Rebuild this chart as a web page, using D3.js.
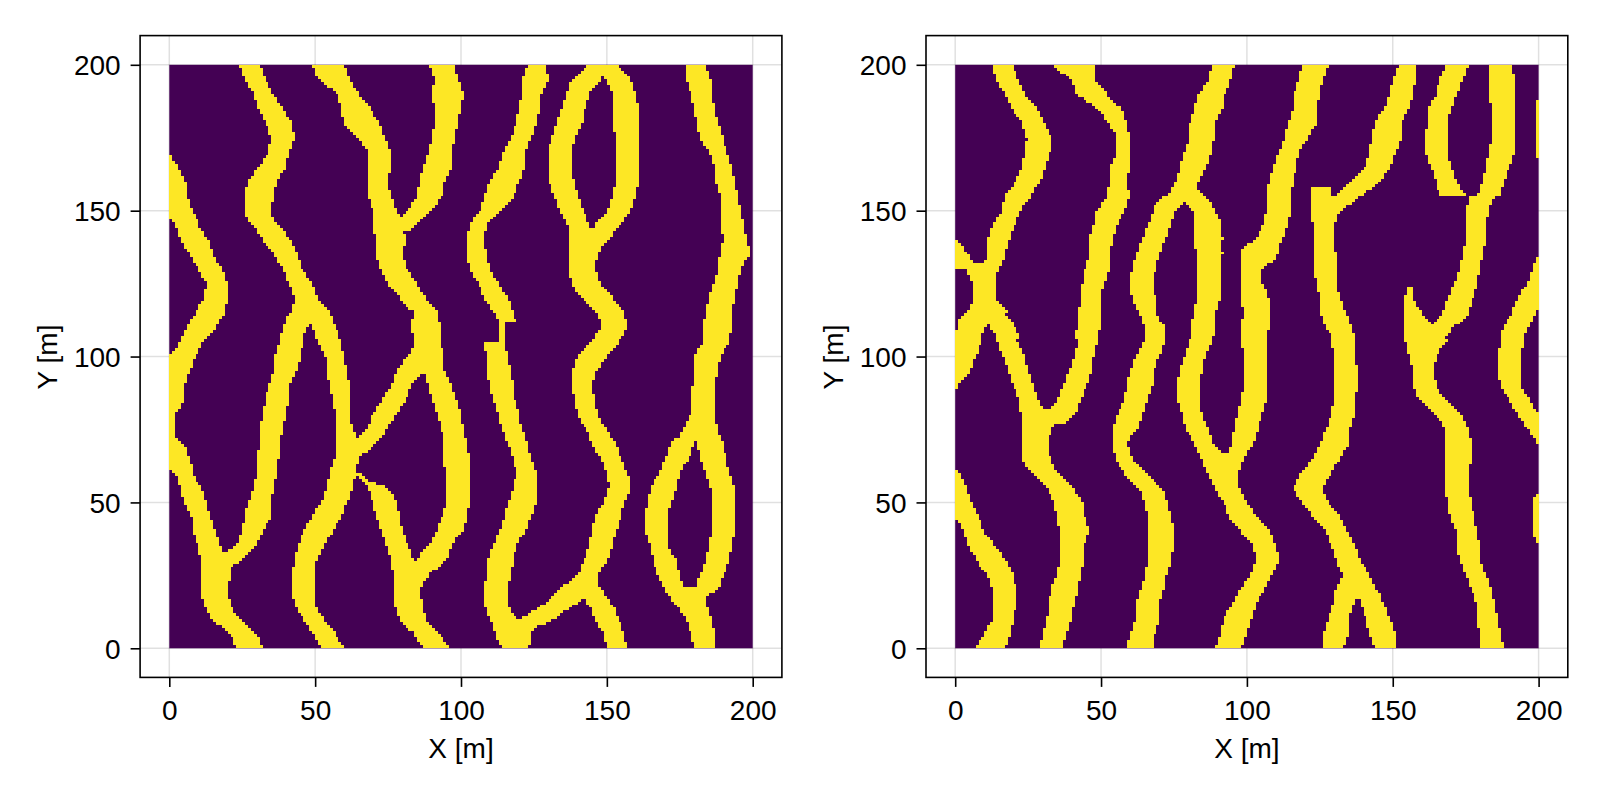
<!DOCTYPE html>
<html><head><meta charset="utf-8">
<style>html,body{margin:0;padding:0;background:#fff}svg{display:block}text{font-family:"Liberation Sans",Arial,sans-serif;fill:#000}</style>
<script src="https://cdnjs.cloudflare.com/ajax/libs/d3/7.8.5/d3.min.js"></script>
</head><body><svg id="c" width="1600" height="800"></svg>
<script>
const xTicks=[0,50,100,150,200], yTicks=[0,50,100,150,200];
const xTitle="X [m]", yTitle="Y [m]";
const cellColors=["#440154","#fde725"];
// channel belts read row by row: [y, left x, right x] in metres
const a1=[[168.7,0,0.5],[165,0,3],[160,0,5.5],[155,0,6],[150,0,8],[148,0,9],[147,1,9.5],[145,2,10],[140,4,13.5],[135,7,15],[130,10,18],[125,13,20],[120,12,20],[115,9,19],[110,6,16],[105.6,4,12],[100,0,9],[95,0,7],[90,0,5],[85,0,5],[82,0,3.7],[81,0,2],[73,0,2]];
const a2=[[73,0,2],[72,0,3],[70,0,5],[65,0,7],[61,0,8],[60,2,8],[55,4,11],[50,5,13],[45,7.5,14],[40,8,16],[35,10,17.5],[32,10.5,19],[30,11,21],[25,11,21],[20,11,20],[15,12,21],[10,14.5,24],[5,21,30],[0,23,32]];
const a3=[[200,24,31],[195,26,33],[190,29,35.5],[185,30.5,39],[180,33,42],[175,35,43],[170,34,41],[165,30.5,40],[160,27,37],[155,26,36],[150,26,35],[147,27,36],[145,29,38],[140,32,41.5],[135,36,44],[130,39,45.5],[125,41,49],[120,43,51],[115,42,53]];
const a4=[[115,41,52],[110,39,47],[105.6,38,46],[100,36,45],[95,36,43.5],[90,34,41],[85,33,41],[80,32,40],[75,31,39],[70,31,38],[65,30,37.5],[60,30,37],[55,29,36],[50,27,35],[45,26,35],[40,25,32],[35,23,29.5],[32,18,27],[30,15,25],[28,12,21]];
const a5=[[118,45,53],[115,47,55],[110,49,57],[105.6,50.5,58.5],[100,53.5,60],[95,54,61],[90,55,62],[85,56,62],[80,57,62],[75,57,63],[70,57,66],[65,56.5,65],[60,55,64],[55,54,63],[50,52,61],[45,49,59],[40,46,56],[35,44,53],[30,43,50.5],[25,42,50],[20,42,50],[15,43,50],[10,46,53],[5,49.5,57],[0,52,60]];
const a6=[[200,49,60],[195,51,62],[190,57.5,65],[185,59,69],[180,60,72],[175,65,74],[170,68,76],[165,68,76],[160,68,75],[155,68,76],[150,70,78],[145,70,80],[140,71,81],[135,71,80],[130,72.5,81.5],[125,75,85],[120,79,88],[115,84,92],[110,83,93],[105.6,84,93],[100,83,94]];
const a7=[[102,84,90],[100,81,90],[97,80,89],[95,78,87],[90,76,83],[85,73,81],[80,69.5,77.5],[75,68,74.5],[72,64,73],[70,61,70.5],[67,60,67],[65,58,64]];
const a8=[[102,86,94],[100,88,94.5],[95,87,94.5],[90,89,97],[85,90,98.5],[80,92,100],[75,93.4,101],[70,94,102],[65,94,103],[60,95,103],[50,95,103],[45,93.4,102],[40,91.5,100.5],[37,90,98],[35,89,97],[32,86,96],[30,85,94.5],[27,80,91],[25,79,89],[22,78,87]];
const a9=[[60,64,66],[57,66,69],[55.2,68,75],[52,69,77],[50,70,78],[45,71,79],[40,73,80],[35,74.5,82],[30,76,84],[25,77,88],[22,77,87],[20,77,86],[15,77,87],[10,79,88],[5,84,93],[0,87,96]];
const a10=[[200,89,98],[195,91,99],[190,90,101],[185,91,100],[180,91,99],[175,90,98],[170,89,97],[165,87,97],[160,86,94.6],[155,85,93.4],[150,81.5,90],[147,79,87],[145,78,85],[143,76,83]];
const a11=[[200,123,129],[195,121,130],[190,121,127.4],[185,120,127],[180,119,126],[175,117,124],[170,114.4,122],[165,113,122],[160,110,120],[155,108,118],[150,106.4,114],[147,104,111],[145,103,109],[140,102,108],[135,102,109],[130,103,110],[125,106,113],[120,108,116],[115,111.5,118],[112,113,119]];
const a12=[[112,113.2,115.2],[105,113.2,115.2]];
const a13=[[105,108,115],[100,109,116],[95,109,117],[90,110,118],[85,111,118.5],[80,113,120],[75,114,121],[70,116,123],[65,118,124],[60,119,126],[55,118,126],[50,116,126],[45,115,124],[40,113,122],[35,111,119],[30,109,118],[25,109,117],[20,108,116],[15,108,116],[10,110,119],[5,112,124],[2,113,124],[0,114,123]];
const a14=[[5,117,124],[7.4,117,125.5],[9,117,130.6],[11.4,123,134],[13.7,126,137],[16,129.5,140.3],[18,131.7,144],[21.4,135,146.6],[25,140,147]];
const a15=[[200,144,150],[195,138,148],[190,136,144],[185,134.6,142.6],[180,133,141.5],[175,131,139],[170,130,138],[165,130,138],[160,130,138.6],[155,132,140],[150,134,142],[145,136.5,143.7],[143,137,145],[140,137,146]];
const a16=[[200,148,154],[195,149.5,158],[190,152,160],[185,152,161],[180,152,161],[175,153,161],[170,153,161],[165,153,161],[160,153,161],[155,152,160],[150,150,158],[145,146,154.5],[142,145,152],[139,143,150]];
const a17=[[143,137,146],[140,137,150],[135,137,147],[130,137,146],[125,138,148],[120,141,152],[115,147,156],[110,148.5,157.5],[105,144.5,154],[100,140,150],[95,138,146.5],[90,138,145],[85,139,146],[80,140,147],[75,143,150],[70,145,153],[65,148,155],[60,150,157],[56,150.7,158.6],[50,149,156],[45,146,155],[40,145,153],[35,144,152],[30,142,150],[25,140,147],[22,139,146.5],[19,138,146]];
const a18=[[21,140,148],[19,141,149],[16,143,151],[13,145,153],[10,146,154],[5,149,156],[0,150,157]];
const a19=[[200,177,184],[195,177,185.5],[190,179,186],[185,180,187],[180,181,188],[175,182,190],[170,185,191],[165,187,193],[160,187,194],[155,189,195],[150,189,196],[145,189,197],[140,190,198],[137,189,199],[135,189,199],[132,188,197],[130,188,196],[125,186.6,195],[120,185,194],[115,184,193],[110,183,193],[105,183,192],[100,180,189],[95,180,188],[90,179.5,187],[85,179.5,187],[80,178.5,187],[75,176,188],[72,175,189]];
const a20=[[72,174,182],[70,172,180],[65,170,178],[60,168,175],[55,165,174],[50,164,172],[45,163,171],[40,163,171],[35,165,171],[30,166,174],[25,167.5,175],[22,169,176],[19,171,178]];
const a21=[[72,180,189],[70,181,190],[65,182.3,191],[60,183.7,192],[55,185.5,194],[50,186,194],[45,186,194],[40,186,194],[35,185,193],[30,184,192],[25,182,190],[22,181,189],[19,180,187]];
const a22=[[20.8,170,187],[20,170,187],[17,172,184],[15,174,184],[10,177,186],[5,179,187],[0,180,187]];
const leftChannels=[a1,a2,a3,a4,a5,a6,a7,a8,a9,a10,a11,a12,a13,a14,a15,a16,a17,a18,a19,a20,a21,a22];

const b1=[[200,13,20],[195,14,21.4],[190,17,24],[185,19.4,28],[180,23,30.5],[175,24.6,33],[170,24,32.6],[165,23,31],[160,20.6,29],[155,17,26],[150,16,22.3],[145,13,20.6],[140,11,18.3],[135,11,17],[131,10,16]];
const b2=[[140,0,0.6],[137,0,3],[135,0,4.6],[132.5,0,6],[131.7,0,10.5],[130.5,0,15.5],[130,4,15.5],[128,4.6,14],[125,6,14],[120,6,14],[117.5,5.5,16.5],[115,4,18.3],[112,1,12]];
const b3=[[112,1,12],[111,1,11.4],[107,0,9],[105.6,0,9],[100,0,7],[95,0,5],[92,0,2.3],[90,0,1],[89,0,0.4]];
const b4=[[114,11,18],[110,12,20.6],[107,14,22],[105.6,14,21],[100,16.6,24],[95,18,25],[90,20,27],[85,21.7,28.6],[82,22,30],[80,23,37],[75,23,33],[70,23,32],[65,23,32.6],[60,26,35],[55,31.4,40.6],[50,34,43.5],[45,35,44.6],[40,36,46],[35,36,44],[30,36,44],[25,35,43],[20,32.6,42],[15,32.4,40.6],[10,31.4,40],[5,30,38],[0,29,37]];
const b5=[[200,34,48],[197,37,48],[195,39.5,48],[190,41.7,52],[185,48.6,57],[180,52.6,59],[175,55.5,60],[170,55.5,60],[165,53,60],[160,53,59],[155,52,60],[150,48.6,58],[145,47.5,55.5],[140,46,54],[135,46,53],[130,44.6,53],[125,43.5,51],[120,43.5,50],[115,42,50],[110,42,50],[107,41,49],[105.6,42,49],[100,41,47.5],[95,39,47],[90,37,45],[85,35,43],[80,31.4,41],[77,30,37]];
const b6=[[200,88,95.8],[195,87,94.7],[190,83.5,92.4],[185,82,91.5],[180,80.4,89],[175,80.4,88.6],[170,78.3,88],[165,77,86],[160,75.5,83.5],[156.7,74,83.5],[155,73,84],[153,72,84]];
const b7=[[155,72,78],[153,70,78],[151,68,77],[150,68,75.5],[145,66,74],[140,64,72],[135,62,70],[130,60.6,68.6],[125,60,68],[120,60.6,68.6],[115,63,69],[110,65,72],[107,65,72.6],[105.6,65,72],[100,62,70],[95,60,68],[90,59,67.5],[85,58,66],[80,55.5,64],[75,54,63],[72.5,54,60],[70,54,59],[65,55,61],[60,58,65],[55,63,71],[50,65,73],[45,66,74],[40,66,75.5],[35,66,75],[30,66,74],[25,65,72.6],[20,63.5,71.5],[15,62,70],[10,62,70],[5,60,68.6],[0,59,67.5]];
const b8=[[157,77,83],[155,79,85.8],[153,78,88],[151.5,80,88],[150,82,89],[145,82,91.5],[140,82,91.5],[135,83,91.5],[130,83.5,91],[125,83.5,91],[120,83,91],[115,82,89],[110,81,89],[107,81,88.6],[105.6,80.4,88],[100,78.4,85.8],[95,77,84.6],[90,76,84],[85,76,84],[80,78,84.6],[75,79,87],[72,81,88],[70,82,88.6],[67,83.5,91],[65,84.6,92]];
const b9=[[67,84,100],[65,84.6,98.7],[60,86.4,97],[55,89,97.5],[50,92,99.8],[45,94,103.4],[40,98,108],[35,102,110],[32,103,110.7],[30,103,111],[25,101,108.7],[20,97.5,106],[15,95,103],[10,92,101.5],[5,90.7,100],[0,89,98]];
const b10=[[200,119,128],[195,118,126],[190,116,125],[185,116,124],[180,114,124],[175,113,121],[170,111,118],[165,109,117],[160,107.8,116],[155,106.7,115],[150,106.7,115],[145,105.5,114],[140,103,112],[138.8,100.4,111.5],[137.6,98.9,111],[135.9,97.8,111],[133,97.8,109.6],[132,97.8,108],[130.2,97.8,105.5],[125,98,105.5],[120,98,107.6],[115,98.9,108],[110,98,108],[107,98,106.7],[105.6,98,106.7],[100,99,106.7],[95,99,106.7],[90,99,106.7],[85,98,106.7],[80,96.6,105],[75,96,104],[72.5,95,103],[70,95,102],[67,93.5,100],[65,93,98]];
const b11=[[200,152,158],[195,150,158],[190,149,157],[185,147,155.5],[180,144,153],[175,143,153],[170,142,151],[165,141,149],[160,136,146],[157,133,142],[155,130,139],[152,130,135],[149,129,132]];
const b12=[[157.6,122,129],[150,122,130.5],[147,122,131],[145,123,130],[140,123,130],[135,123,130.7],[130,123,130.7],[125,124,130.7],[120,125,132],[115,125,134],[110,127,136],[107,129,137],[105.6,129,137],[100,130,137],[95,130,138],[90,130,138],[85,130,137],[80,129,137],[75,127,135],[70,125,135],[65,122.7,132],[60,118.7,129],[55,116,125.6],[50,119,128],[45,122.7,132],[40,127,134.7],[35,129,137],[30,130.7,139],[27,132,141],[25,133,142],[21,131,144],[18,130,146]];
const b13=[[21,131,140],[16,130,137],[10,128,135],[5,126,135],[0,126,133]];
const b14=[[21,137,144],[16,139,146.7],[10,141,149],[5,142,151],[0,144,151]];
const b15=[[200,168.6,176],[195,166,174],[190,165,172],[185,162,170],[180,162,169],[175,161,169],[170,161,169],[165,163,170],[160,165,172],[155,166,175]];
const b16=[[200,183,191],[195,183,192],[190,183,192],[185,184,192],[180,184,192],[175,184,192],[170,183,192],[165,182,190],[160,181,188],[155,179,187]];
const b17=[[155,176,187],[154,176,184],[150,175,183],[145,175,182],[140,175,182],[135,174,181],[130,173,180],[125,171,179],[120,169,177.6],[115,167,176],[112,165,173.6],[110,162,170.7],[108,160,169.4],[106,158,168]];
const b18=[[123.7,155.5,156.5],[120,154,157],[115,154,160],[112,154,162.8],[110.5,154,164.7],[107,154,168],[105.6,154,169],[103.5,155,167],[102,155,166],[100,155.7,165],[95,157,164],[90,157,165],[85,159,168],[80,165,173.6],[77,167,175],[75,168,176],[70,167.6,177],[65,168,177],[60,168,176],[55,168,176],[50,169,177],[45,169.7,178],[40,172,179],[35,172,180],[30,173,180],[25,175,182],[20,177,184],[15,179,185],[10,179,186],[5,180,187],[0,180,188]];
const b19=[[188,199,200],[167.6,199,200]];
const b20=[[133.6,199,200],[130,198,200],[125,196,200],[120,193,200],[116,191,200],[115,191,199],[110,188,196.5],[107,187,195],[105.6,187,195],[100,186,194],[95,186,194],[90,187,194],[85,190,197],[80,193,200],[75,196.5,200],[70,199.8,200]];
const b21=[[53,199,200],[50,198,200],[40,198,200],[36,199,200]];
const b22=[[60.7,0,1],[55,0,4],[50,0,5.4],[45,0,8],[44,1,8.6],[40,3,10],[35,4.6,13.7],[30,7.4,17.5],[25,11,20],[20,13,21],[15,13,21],[10,13,20],[5,10,19],[0,7,17]];
const rightChannels=[b1,b2,b3,b4,b5,b6,b7,b8,b9,b10,b11,b12,b13,b14,b15,b16,b17,b18,b19,b20,b21,b22];

const cells=d3.range(200);
function runsFor(channels){
  const out=[];
  for(const row of cells){
    const yc=row+0.5, on=new Set();
    for(const ch of channels){
      const ys=ch.map(d=>d[0]);
      if(yc>d3.max(ys)||yc<d3.min(ys))continue;
      const L=d3.scaleLinear().domain(ys).range(ch.map(d=>d[1]));
      const R=d3.scaleLinear().domain(ys).range(ch.map(d=>d[2]));
      const a=L(yc),b=R(yc);
      for(const col of cells){const xc=col+0.5;if(xc>=a&&xc<b)on.add(col);}
    }
    let start=null;
    for(let col=0;col<=200;col++){
      if(on.has(col)){if(start===null)start=col;}
      else if(start!==null){out.push({row,start,end:col});start=null;}
    }
  }
  return out;
}
const svg=d3.select("#c");
const panels=[{left:140.1,channels:leftChannels},{left:926,channels:rightChannels}];
const size=641.8, pad=29.2, fontPx=28;
panels.forEach(p=>{
  const g=svg.append("g");
  const x=d3.scaleLinear().domain([0,200]).range([p.left+pad,p.left+pad+583.4]);
  const y=d3.scaleLinear().domain([0,200]).range([648.3,64.8]);
  const top=35.6,bot=677.4,l=p.left,r=p.left+size;
  g.selectAll(".gx").data(xTicks).join("line").attr("x1",d=>x(d)).attr("x2",d=>x(d)).attr("y1",top).attr("y2",bot).attr("stroke","rgba(0,0,0,0.12)").attr("stroke-width",1.5);
  g.selectAll(".gy").data(yTicks).join("line").attr("y1",d=>y(d)).attr("y2",d=>y(d)).attr("x1",l).attr("x2",r).attr("stroke","rgba(0,0,0,0.12)").attr("stroke-width",1.5);
  g.append("rect").attr("x",x(0)).attr("y",y(200)).attr("width",x(200)-x(0)).attr("height",y(0)-y(200)).attr("fill",cellColors[0]);
  g.selectAll(".run").data(runsFor(p.channels)).join("rect")
    .attr("x",d=>x(d.start)).attr("width",d=>x(d.end)-x(d.start))
    .attr("y",d=>y(d.row+1)).attr("height",d=>y(d.row)-y(d.row+1)).attr("fill",cellColors[1]).attr("shape-rendering","crispEdges");
  g.append("rect").attr("x",l).attr("y",top).attr("width",size).attr("height",bot-top).attr("fill","none").attr("stroke","#000").attr("stroke-width",1.6);
  const ax=d3.axisBottom(x).tickValues(xTicks).tickSize(9.5).tickPadding(13.5).tickFormat(d3.format("d"));
  const ay=d3.axisLeft(y).tickValues(yTicks).tickSize(9.5).tickPadding(10).tickFormat(d3.format("d"));
  const gx=g.append("g").attr("transform",`translate(0,${bot})`).call(ax);
  const gy=g.append("g").attr("transform",`translate(${l},0)`).call(ay);
  [gx,gy].forEach(s=>{s.select(".domain").remove();s.selectAll("line").attr("stroke","#000").attr("stroke-width",1.6);s.selectAll("text").attr("font-size",fontPx).attr("font-family",'"Liberation Sans"');});
  gy.selectAll("text").attr("dy","0.36em");
  g.append("text").attr("x",(l+r)/2).attr("y",758.3).attr("text-anchor","middle").attr("font-size",fontPx).text(xTitle);
  g.append("text").attr("transform",`translate(${l-83.2},357) rotate(-90)`).attr("text-anchor","middle").attr("font-size",fontPx).text(yTitle);
});
</script></body></html>
